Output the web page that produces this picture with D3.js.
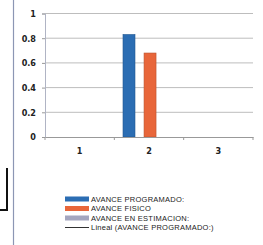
<!DOCTYPE html>
<html><head><meta charset="utf-8">
<script src="https://cdn.jsdelivr.net/npm/d3@7"></script>
<style>body{margin:0;background:#fff}svg{display:block}</style>
</head><body>
<script>
const categories = ["1","2","3"];
const programado = [0, 0.83, 0];
const fisico = [0, 0.68, 0];
const estimacion = [0, 0, 0];
const yTicks = [0, 0.2, 0.4, 0.6, 0.8, 1];
const seriesNames = ["AVANCE PROGRAMADO:", "AVANCE FISICO", "AVANCE EN ESTIMACION:", "Lineal (AVANCE PROGRAMADO:)"];
const seriesColors = ["#2b6db3", "#e8663a", "#a4a6bf", "#333333"];

const W = 263, H = 245;
const svg = d3.select("body").append("svg").attr("width", W).attr("height", H);
const font = "'Liberation Sans Narrow','DejaVu Sans Condensed','Liberation Sans',sans-serif";
const lfont = "'Liberation Sans',Arial,sans-serif";

// decorative frame lines
svg.append("line").attr("x1",13.5).attr("x2",13.5).attr("y1",0).attr("y2",H)
  .attr("stroke","#8c96b4").attr("stroke-width",1.2);
svg.append("path").attr("d","M7,168 V210 H0").attr("fill","none").attr("stroke","#111").attr("stroke-width",2);

const x0 = 45, x1 = 253, yBase = 137, yTop = 13.5;
const x = d3.scaleBand().domain(categories).range([x0, x1]);
const y = d3.scaleLinear().domain([0,1]).range([yBase, yTop]);

// gridlines
svg.append("g").selectAll("line").data(yTicks.filter(d=>d>0)).join("line")
  .attr("x1",x0).attr("x2",x1).attr("y1",d=>y(d)).attr("y2",d=>y(d))
  .attr("stroke","#bdbdbd").attr("stroke-width",1);

// y axis
const ya = svg.append("g").attr("transform",`translate(${x0},0)`)
  .call(d3.axisLeft(y).tickValues(yTicks).tickFormat(d=>d===0?"0":d===1?"1":d3.format(".1f")(d)).tickSize(3).tickPadding(6));
ya.select(".domain").attr("stroke","#b0b4c4");
ya.selectAll(".tick line").attr("stroke","#999");
ya.selectAll("text").attr("font-family",font).attr("font-size",9).attr("font-weight","bold").attr("fill","#222");

// bars
const bw = x.bandwidth();
const xs = d3.scaleBand().domain([0,1,2]).range([bw*0.125, bw*0.905]).paddingInner(0.43).paddingOuter(0);
const allSeries = [programado, fisico, estimacion];
allSeries.forEach((vals, si) => {
  svg.append("g").selectAll("rect").data(vals).join("rect")
    .attr("x",(d,i)=>x(categories[i]) + xs(si))
    .attr("width", xs.bandwidth())
    .attr("y", d=>y(d)).attr("height", d=>yBase - y(d))
    .attr("fill", seriesColors[si])
    .attr("stroke", d3.color(seriesColors[si]).darker(0.6)).attr("stroke-width", d=>d>0?0.6:0);
});

// x axis
const xa = svg.append("g").attr("transform",`translate(0,${yBase})`)
  .call(d3.axisBottom(x).tickSize(0).tickPadding(11));
xa.select(".domain").attr("stroke","#999");
xa.selectAll("text").attr("font-family",font).attr("font-size",9).attr("font-weight","bold").attr("fill","#222");
const bounds = [x0, ...categories.map(c=>x(c)+x.bandwidth())];
svg.append("g").selectAll("line").data(bounds).join("line")
  .attr("x1",d=>d).attr("x2",d=>d).attr("y1",yBase).attr("y2",yBase+3).attr("stroke","#999");

// legend
const lg = svg.append("g").attr("transform","translate(65,199)");
seriesNames.forEach((n,i)=>{
  const g = lg.append("g").attr("transform",`translate(0,${i*9.5})`);
  if (i<3) g.append("rect").attr("x",0).attr("y",-2.5).attr("width",24).attr("height",5).attr("fill",seriesColors[i]);
  else g.append("line").attr("x1",0).attr("x2",24).attr("y1",0).attr("y2",0).attr("stroke",seriesColors[i]).attr("stroke-width",1);
  g.append("text").attr("x",26).attr("y",2.6).text(n)
    .attr("font-family",lfont).attr("font-size",7.5).attr("letter-spacing",0.25).attr("fill","#222");
});
</script>
</body></html>
